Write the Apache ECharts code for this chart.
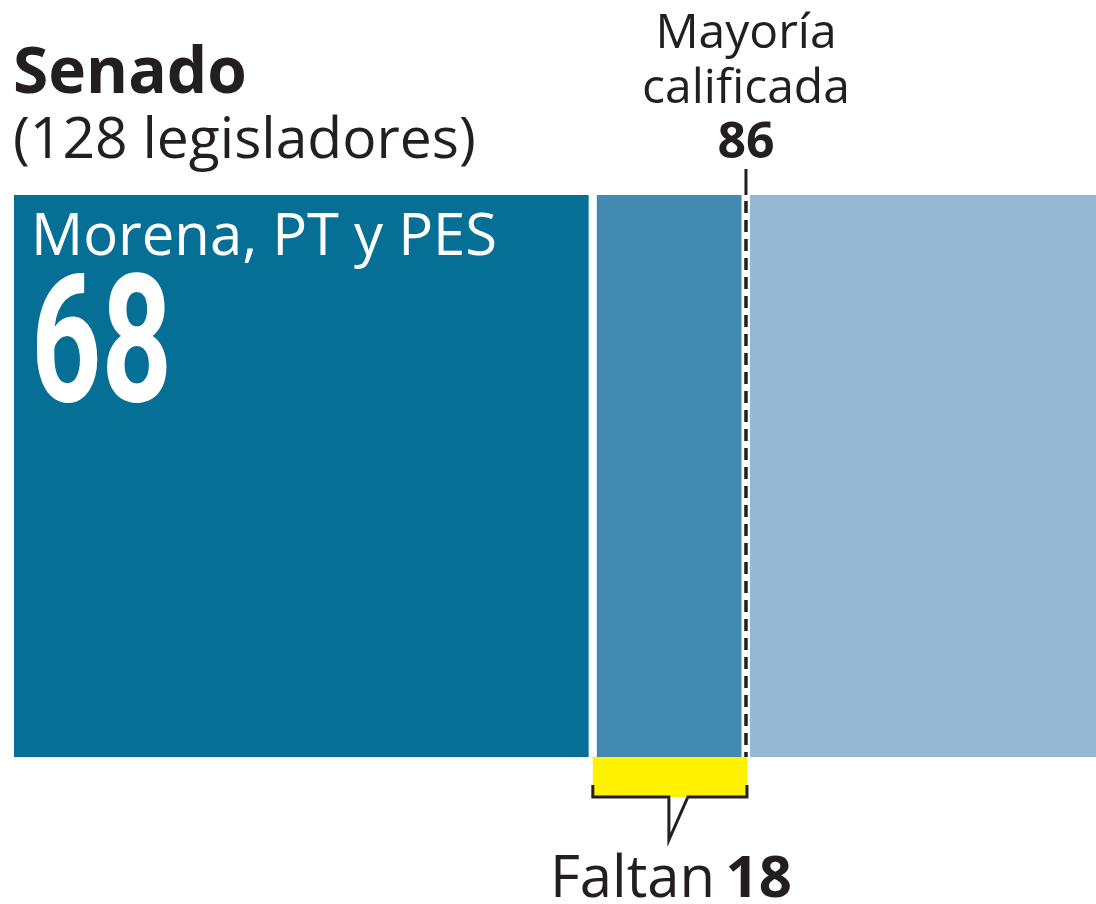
<!DOCTYPE html>
<html>
<head>
<meta charset="utf-8">
<script src="https://cdn.jsdelivr.net/npm/echarts@6/dist/echarts.min.js"></script>
<style>
  html, body { margin: 0; padding: 0; background: #fff; }
  #chart { width: 1096px; height: 904px; }
</style>
</head>
<body>
<div id="chart"></div>
<script>
// datos
const total = 128;
const mayoria = 86;
const grupos = ['Morena, PT y PES', 'Faltan', 'Resto'];
const valores = [68, 18, 42];
const colores = ['#066f96', '#4189b0', '#95b8d3'];

const FONT = '"Open Sans", "Noto Sans", sans-serif';
const INK = '#231f20';

const chart = echarts.init(document.getElementById('chart'));

const option = {
  animation: false,
  grid: { left: 14, right: 0, top: 195, bottom: 147 },
  xAxis: { type: 'value', min: 0, max: total, show: false },
  yAxis: { type: 'category', data: ['Senado'], show: false },
  series: grupos.map((g, i) => ({
    name: g,
    type: 'bar',
    stack: 'senado',
    barWidth: '100%',
    data: [valores[i]],
    itemStyle: { color: colores[i] },
    silent: true,
  })),
};
chart.setOption(option);

// anotaciones, posiciones sacadas de la escala del eje
const xa = chart.convertToPixel({ xAxisIndex: 0 }, valores[0]);
const xb = chart.convertToPixel({ xAxisIndex: 0 }, mayoria);
const barTop = 195, barBottom = 757;
const xl = xa + 4;   // inicio del corchete
const xr = xb + 6;   // fin del corchete
const mid = (xl + xr) / 2;
const txtY = (base, size) => base - 0.285 * size; // baseline -> middle

chart.setOption({
  graphic: [
    // separaciones blancas
    { type: 'rect', shape: { x: xa, y: barTop, width: 8, height: barBottom - barTop }, style: { fill: '#fff' }, z: 10 },
    { type: 'rect', shape: { x: xb + 1, y: barTop, width: 8, height: barBottom - barTop }, style: { fill: '#fff' }, z: 10 },
    // linea de mayoria calificada
    { type: 'line', shape: { x1: xb + 5, y1: 169, x2: xb + 5, y2: barTop }, style: { stroke: INK, lineWidth: 3 }, z: 11 },
    { type: 'line', shape: { x1: xb + 5, y1: barTop + 6, x2: xb + 5, y2: barBottom }, style: { stroke: INK, lineWidth: 3.5, lineDash: [12, 7] }, z: 11 },
    // barra amarilla
    { type: 'rect', shape: { x: xl, y: barBottom, width: xr - xl, height: 40 }, style: { fill: '#fff100' }, z: 10 },
    // corchete con flecha
    {
      type: 'polyline',
      shape: {
        points: [
          [xl, 785], [xl, 797], [mid - 1, 797], [mid - 1, 840],
          [mid + 18, 797], [xr, 797], [xr, 785],
        ],
      },
      style: { stroke: INK, lineWidth: 3, fill: null },
      z: 12,
    },
    // titulos
    { type: 'text', x: 13, y: txtY(93, 64), style: { text: 'Senado', font: 'bold 64px ' + FONT, fill: INK, verticalAlign: 'middle' } },
    { type: 'text', x: 13, y: txtY(158, 57), style: { text: '(128 legisladores)', font: '57px ' + FONT, fill: INK, verticalAlign: 'middle' } },
    { type: 'text', x: xb + 5, y: txtY(48, 48), style: { text: 'Mayoría', font: '48px ' + FONT, fill: INK, align: 'center', verticalAlign: 'middle' } },
    { type: 'text', x: xb + 5, y: txtY(103, 48), style: { text: 'calificada', font: '48px ' + FONT, fill: INK, align: 'center', verticalAlign: 'middle' } },
    { type: 'text', x: xb + 5, y: txtY(158, 50), style: { text: String(mayoria), font: 'bold 50px ' + FONT, fill: INK, align: 'center', verticalAlign: 'middle' } },
    // etiqueta del bloque
    { type: 'text', x: 31, y: txtY(255, 58), z: 20, style: { text: grupos[0], font: '58px ' + FONT, fill: '#fff', verticalAlign: 'middle' } },
    { type: 'text', x: 31, y: 408 - 0.292 * 178, scaleX: 0.69, z: 20, style: { text: String(valores[0]), font: 'bold 178px Roboto, sans-serif', fill: '#fff', verticalAlign: 'middle' } },
    // faltan
    {
      type: 'text', x: mid + 1, y: txtY(897, 58), z: 20,
      style: {
        text: '{a|Faltan}{s| }{b|' + valores[1] + '}',
        align: 'center', verticalAlign: 'middle',
        rich: {
          a: { font: '58px ' + FONT, fill: INK },
          s: { font: '40px ' + FONT, fill: INK },
          b: { font: 'bold 58px ' + FONT, fill: INK },
        },
      },
    },
  ],
});
</script>
</body>
</html>
